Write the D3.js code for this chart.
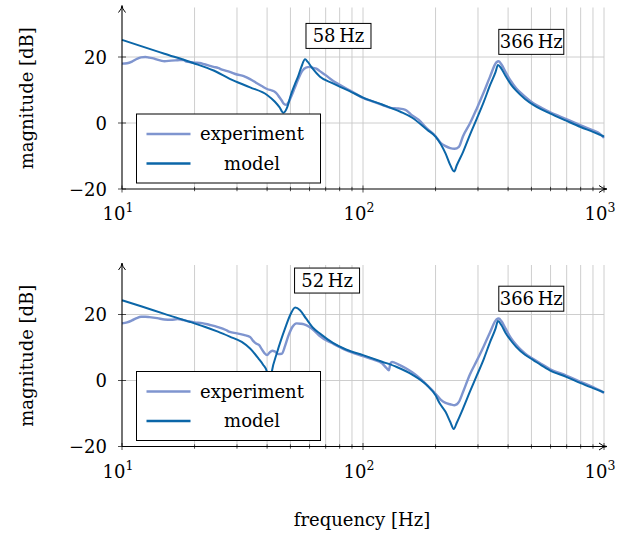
<!DOCTYPE html>
<html>
<head>
<meta charset="utf-8">
<script src="https://cdn.jsdelivr.net/npm/d3@7"></script>
<style>
  body { margin: 0; background: #fff; }
  text { font-family: "DejaVu Serif", serif; }
</style>
</head>
<body>
<svg id="chart" width="631" height="533"></svg>
<script>
// Frequency response, two panels.
let xTicks = [10, 100, 1000];
let xTickSup = ['1', '2', '3'];
let yTicks = [-20, 0, 20];
let legendNames = ['experiment', 'model'];

// top panel
let topExpF = [10, 10.5, 11, 11.5, 12, 12.5, 13, 13.5, 14, 14.5, 15, 16, 17, 18, 18.5, 19, 20, 21, 22, 23, 24, 25, 26, 28, 30, 32, 34, 36, 38, 40, 42, 43, 44, 45, 46, 47, 48, 49, 50, 52, 54, 56, 58, 60, 62, 64, 66, 70, 75, 80, 90, 100, 110, 120, 130, 140, 150, 160, 170, 185, 200, 210, 220, 230, 240, 250, 260, 278, 297, 317, 336, 358, 366, 375, 390, 410, 432, 470, 509, 550, 596, 697, 800, 900, 960, 1000];
let topExpDb = [18.0, 18.1, 18.6, 19.4, 19.9, 20.0, 19.8, 19.6, 19.2, 18.9, 18.7, 18.9, 19.0, 19.1, 18.6, 18.5, 18.3, 18.2, 17.8, 17.4, 17.0, 16.7, 16.2, 15.5, 14.7, 14.2, 13.3, 12.2, 11.2, 10.3, 9.8, 9.5, 8.8, 7.8, 6.8, 5.8, 5.5, 6.2, 7.5, 10.5, 13.5, 15.8, 16.8, 17.0, 16.7, 16.5, 15.8, 14.5, 12.8, 11.6, 9.5, 7.6, 6.5, 5.5, 4.6, 4.4, 4.0, 2.3, 1.0, -1.8, -4.0, -6.0, -7.0, -7.6, -7.8, -7.2, -4.0, -0.1, 4.5, 9.3, 13.9, 18.4, 18.7, 17.8, 15.5, 12.8, 10.5, 8.0, 6.0, 4.6, 3.3, 1.2, -0.7, -2.2, -3.2, -4.5];
let topModF = [10, 12, 15, 19.7, 24, 28, 34, 40, 43, 45, 46.7, 48.5, 50, 52, 53.9, 55.5, 57.5, 59, 61.6, 66.3, 75, 90, 100, 120, 143, 160, 185, 200, 220, 230, 239, 245, 260, 278, 297, 317, 336, 355, 363, 375, 390, 410, 432, 470, 509, 550, 596, 697, 800, 900, 1000];
let topModDb = [25.2, 23.3, 21.0, 18.2, 15.9, 13.4, 10.8, 8.5, 6.5, 4.8, 3.1, 4.8, 8.1, 11.5, 14.3, 17.0, 19.3, 18.5, 16.6, 14.0, 12.0, 9.3, 7.7, 5.6, 3.4, 1.6, -2.1, -4.1, -9.2, -12.7, -14.7, -12.8, -8.8, -3.5, 1.4, 6.4, 11.3, 15.5, 17.6, 16.5, 14.3, 11.8, 9.8, 7.3, 5.5, 4.1, 2.9, 0.7, -1.2, -2.7, -4.1];
let topPeaks = [58, 366];
let topPeakDb = [22.6, 20.8];

// bottom panel
let botExpF = [10, 10.5, 11, 11.5, 12, 12.5, 13, 14, 15, 16, 17, 18, 19, 20, 21.5, 23, 25, 27, 28, 30, 32, 34, 35, 36, 37, 38, 39, 40, 41, 42, 43, 44.5, 46, 47.5, 49, 51, 53, 55, 57, 60, 63, 66, 75, 85, 100, 110, 120, 125, 128, 130, 132, 140, 150, 160, 170, 184, 200, 210, 220, 230, 240, 250, 260, 278, 297, 317, 336, 358, 366, 375, 390, 410, 432, 470, 509, 550, 596, 697, 800, 900, 960, 1000];
let botExpDb = [17.3, 17.6, 18.2, 18.9, 19.3, 19.3, 19.2, 18.9, 18.5, 18.4, 18.6, 18.3, 17.9, 17.6, 17.4, 16.9, 16.2, 15.3, 14.7, 14.3, 13.8, 13.2, 12.0, 11.2, 10.8, 9.5, 8.3, 7.7, 8.5, 9.0, 8.8, 8.0, 8.1, 10.5, 13.5, 16.3, 17.3, 17.2, 17.0, 16.2, 15.0, 13.5, 11.2, 9.2, 7.4, 6.4, 5.2, 3.8, 3.1, 5.2, 5.6, 4.9, 3.8, 2.5, 1.0, -1.3, -4.0, -5.8, -6.8, -7.2, -7.5, -6.5, -3.5, 1.9, 6.1, 10.4, 14.5, 18.5, 18.8, 18.0, 15.8, 13.0, 10.8, 8.2, 6.5, 5.0, 3.5, 1.5, -0.4, -2.0, -3.0, -3.8];
let botModF = [10, 12, 15, 19.2, 22, 25, 28, 31.4, 34, 36.8, 38.5, 40, 40.8, 41.8, 44, 47.5, 50, 52.3, 54.8, 58, 62, 66.3, 75, 85, 100, 120, 138, 160, 184, 200, 208, 220, 230, 238, 245, 260, 278, 297, 317, 336, 355, 363, 375, 390, 410, 432, 470, 509, 550, 596, 697, 800, 900, 1000];
let botModDb = [24.3, 22.5, 20.2, 17.75, 16.3, 14.8, 13.3, 11.7, 9.7, 6.7, 4.8, 2.6, -3.0, 2.5, 8.5, 15.8, 20.0, 22.1, 21.3, 18.8, 16.0, 14.2, 11.4, 9.4, 7.7, 5.7, 4.1, 1.8, -1.4, -4.5, -6.9, -9.5, -12.5, -14.7, -12.8, -8.5, -3.3, 1.6, 6.5, 11.5, 15.8, 18.0, 16.8, 14.5, 12.2, 10.2, 7.8, 6.2, 4.6, 3.1, 1.1, -0.8, -2.3, -3.6];
let botPeaks = [52, 366];
let botPeakDb = [26.5, 21.0];

let colExp = '#7f95cf';
let colMod = '#0b66a8';
let colGrid = '#c8c8c8';
let fontMain = '"DejaVu Serif", "Liberation Serif", serif';

let svg = d3.select('#chart');

let x = d3.scaleLog()
  .domain([10, 1000])
  .range([122, 604]);

function drawPanel(top, bottom, expF, expDb, modF, modDb, peaks, peakDb, showXLabel) {
  let y = d3.scaleLinear()
    .domain([-20, 35])
    .range([bottom, top]);

  let g = svg.append('g')
    .attr('font-family', fontMain);

  // grid
  let minor = [];
  [10, 100].forEach((dec) => {
    for (let k = 2; k <= 10; k++) minor.push(dec * k);
  });
  g.selectAll('.vgrid')
    .data(minor)
    .enter()
    .append('line')
    .attr('x1', (d) => x(d)).attr('x2', (d) => x(d))
    .attr('y1', y(35)).attr('y2', y(-20))
    .style('stroke', colGrid).style('stroke-width', 0.9);
  g.selectAll('.hgrid')
    .data([0, 20])
    .enter()
    .append('line')
    .attr('x1', x(10)).attr('x2', x(1000))
    .attr('y1', (d) => y(d)).attr('y2', (d) => y(d))
    .style('stroke', colGrid).style('stroke-width', 0.9);

  let line = d3.line()
    .x((d) => x(d[0]))
    .y((d) => y(d[1]))
    .curve(d3.curveMonotoneX);

  g.append('path')
    .attr('d', line(expF.map((f, i) => [f, expDb[i]])))
    .style('fill', 'none').style('stroke', colExp).style('stroke-width', 2.4)
    .style('stroke-linejoin', 'round');
  g.append('path')
    .attr('d', line(modF.map((f, i) => [f, modDb[i]])))
    .style('fill', 'none').style('stroke', colMod).style('stroke-width', 2)
    .style('stroke-linejoin', 'round');

  // axes
  let tickVals = [10].concat(minor);
  g.selectAll('.xt')
    .data(tickVals)
    .enter()
    .append('line')
    .attr('x1', (d) => x(d)).attr('x2', (d) => x(d))
    .attr('y1', (d) => y(-20) - (xTicks.includes(d) ? 3.5 : 2.2))
    .attr('y2', (d) => y(-20) + (xTicks.includes(d) ? 3.5 : 2.2))
    .style('stroke', '#222').style('stroke-width', 0.8);
  g.selectAll('.yt')
    .data(yTicks)
    .enter()
    .append('line')
    .attr('x1', x(10) - 4).attr('x2', x(10) + 4)
    .attr('y1', (d) => y(d)).attr('y2', (d) => y(d))
    .style('stroke', '#222').style('stroke-width', 0.8);

  g.append('line')
    .attr('x1', x(10)).attr('x2', x(1000) + 2)
    .attr('y1', y(-20)).attr('y2', y(-20))
    .style('stroke', '#000').style('stroke-width', 1.1);
  g.append('line')
    .attr('x1', x(10)).attr('x2', x(10))
    .attr('y1', y(-20)).attr('y2', top - 1)
    .style('stroke', '#000').style('stroke-width', 1.1);
  // arrow heads
  g.append('path')
    .attr('d', `M${x(10) - 3.5},${top + 5} Q${x(10)},${top + 1} ${x(10)},${top - 2} Q${x(10)},${top + 1} ${x(10) + 3.5},${top + 5}`)
    .style('fill', 'none').style('stroke', '#000').style('stroke-width', 1);
  g.append('path')
    .attr('d', `M${x(1000) - 5},${y(-20) - 3.5} Q${x(1000) - 1},${y(-20)} ${x(1000) + 3},${y(-20)} Q${x(1000) - 1},${y(-20)} ${x(1000) - 5},${y(-20) + 3.5}`)
    .style('fill', 'none').style('stroke', '#000').style('stroke-width', 1);

  // tick labels
  let xl = g.selectAll('.xl')
    .data(xTicks)
    .enter()
    .append('text')
    .attr('x', (d) => x(d) - 4)
    .attr('y', y(-20) + 31)
    .attr('text-anchor', 'middle')
    .style('font-size', '18px');
  xl.append('tspan').text('10');
  xl.append('tspan')
    .attr('dy', -8)
    .style('font-size', '12.5px')
    .text((d, i) => xTickSup[i]);

  g.selectAll('.yl')
    .data(yTicks)
    .enter()
    .append('text')
    .attr('x', x(10) - 15)
    .attr('y', (d) => y(d) + 6.5)
    .attr('text-anchor', 'end')
    .style('font-size', '18px')
    .text((d) => d < 0 ? '\u2212' + Math.abs(d) : d);

  g.append('text')
    .attr('transform', `translate(33, ${(top + bottom) / 2}) rotate(-90)`)
    .attr('text-anchor', 'middle')
    .style('font-size', '18px')
    .text('magnitude [dB]');

  // peak annotations
  peaks.forEach((p, i) => {
    let label = p + '\u2009Hz';
    let bx = x(p);
    let by = y(peakDb[i]);
    let w = label.length > 6 ? 76 : 65;
    g.append('rect')
      .attr('x', bx).attr('y', by - 25)
      .attr('width', w).attr('height', 25)
      .style('fill', '#fff').style('stroke', '#000').style('stroke-width', 1);
    g.append('text')
      .attr('x', bx + w / 2).attr('y', by - 6.5)
      .attr('text-anchor', 'middle')
      .style('font-size', '18px')
      .text(label);
  });

  // legend
  let lx = 136.5;
  let ly = y(-20) - 75;
  g.append('rect')
    .attr('x', lx).attr('y', ly)
    .attr('width', 184).attr('height', 69)
    .style('fill', '#fff').style('stroke', '#000').style('stroke-width', 1);
  legendNames.forEach((name, i) => {
    let yy = ly + 20 + i * 29.5;
    g.append('line')
      .attr('x1', lx + 10).attr('x2', lx + 54)
      .attr('y1', yy).attr('y2', yy)
      .style('stroke', i === 0 ? colExp : colMod)
      .style('stroke-width', i === 0 ? 2.6 : 2.4);
    g.append('text')
      .attr('x', 252).attr('y', yy + 6)
      .attr('text-anchor', 'middle')
      .style('font-size', '18px')
      .text(name);
  });

  if (showXLabel) {
    g.append('text')
      .attr('x', 362).attr('y', 526)
      .attr('text-anchor', 'middle')
      .style('font-size', '18px')
      .text('frequency [Hz]');
  }
}

drawPanel(7.5, 189, topExpF, topExpDb, topModF, topModDb, topPeaks, topPeakDb, false);
drawPanel(265, 446.5, botExpF, botExpDb, botModF, botModDb, botPeaks, botPeakDb, true);
</script>
</body>
</html>
